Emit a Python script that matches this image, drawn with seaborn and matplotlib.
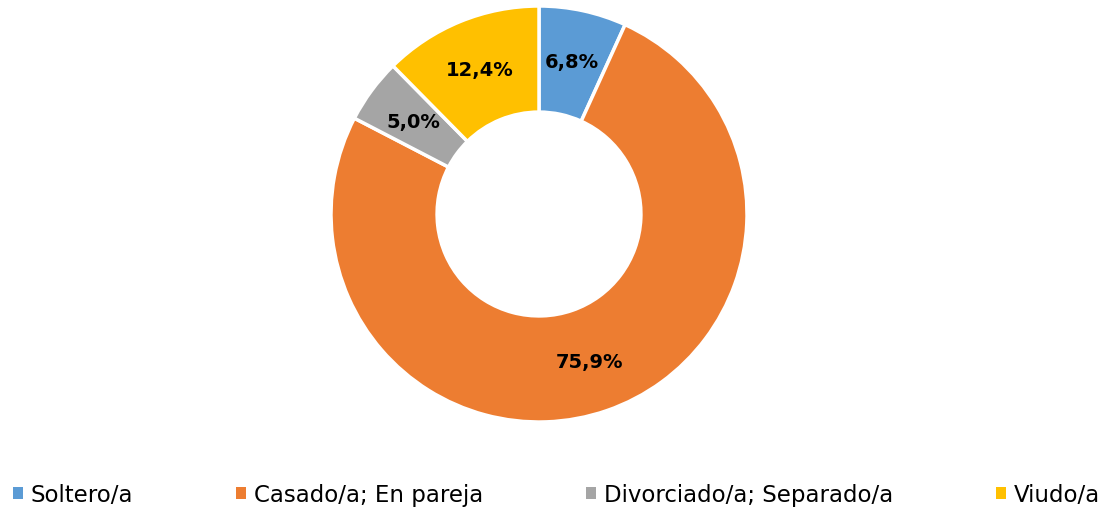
import matplotlib
matplotlib.use("Agg")
import matplotlib.pyplot as plt
import seaborn as sns
import numpy as np
from matplotlib.patches import Patch

sns.set_theme(style="white")
plt.rcParams['font.family'] = ['DejaVu Sans']

categories = ["Soltero/a", "Casado/a; En pareja", "Divorciado/a; Separado/a", "Viudo/a"]
values = [6.8, 75.9, 5.0, 12.4]
colors = ["#5B9BD5", "#ED7D31", "#A5A5A5", "#FFC000"]

W, H = 1114, 510
fig = plt.figure(figsize=(W / 100, H / 100), dpi=100)
cx, cy, r = 539, 215, 208
ax = fig.add_axes([(cx - r) / W, (H - cy - r) / H, 2 * r / W, 2 * r / H])

wedges, _ = ax.pie(values, colors=colors, startangle=90, counterclock=False,
                   radius=1.0, wedgeprops=dict(width=0.51, edgecolor="white", linewidth=2.5))
total = sum(values)
ang = 90.0
for v in values:
    mid = ang - v / total * 360 / 2
    ang -= v / total * 360
    x = 0.75 * np.cos(np.radians(mid))
    y = 0.75 * np.sin(np.radians(mid))
    ax.text(x, y, f"{v:.1f}%".replace(".", ","), ha="center", va="center",
            fontsize=14, fontweight="bold", color="black")
ax.set_xlim(-1, 1)
ax.set_ylim(-1, 1)
ax.set_aspect("equal")
ax.axis("off")

handles = [Patch(facecolor=c, edgecolor="none") for c in colors]
leg = fig.legend(handles, categories, loc="lower left", ncol=4, mode="expand",
                 bbox_to_anchor=(0.003, -0.013, 0.993, 0.09), frameon=False,
                 fontsize=16.5, handlelength=0.45, handleheight=0.45, handletextpad=0.35,
                 borderaxespad=0.0)
for t in leg.get_texts():
    t.set_color("black")

fig.savefig("out.png", dpi=100, facecolor="white")
